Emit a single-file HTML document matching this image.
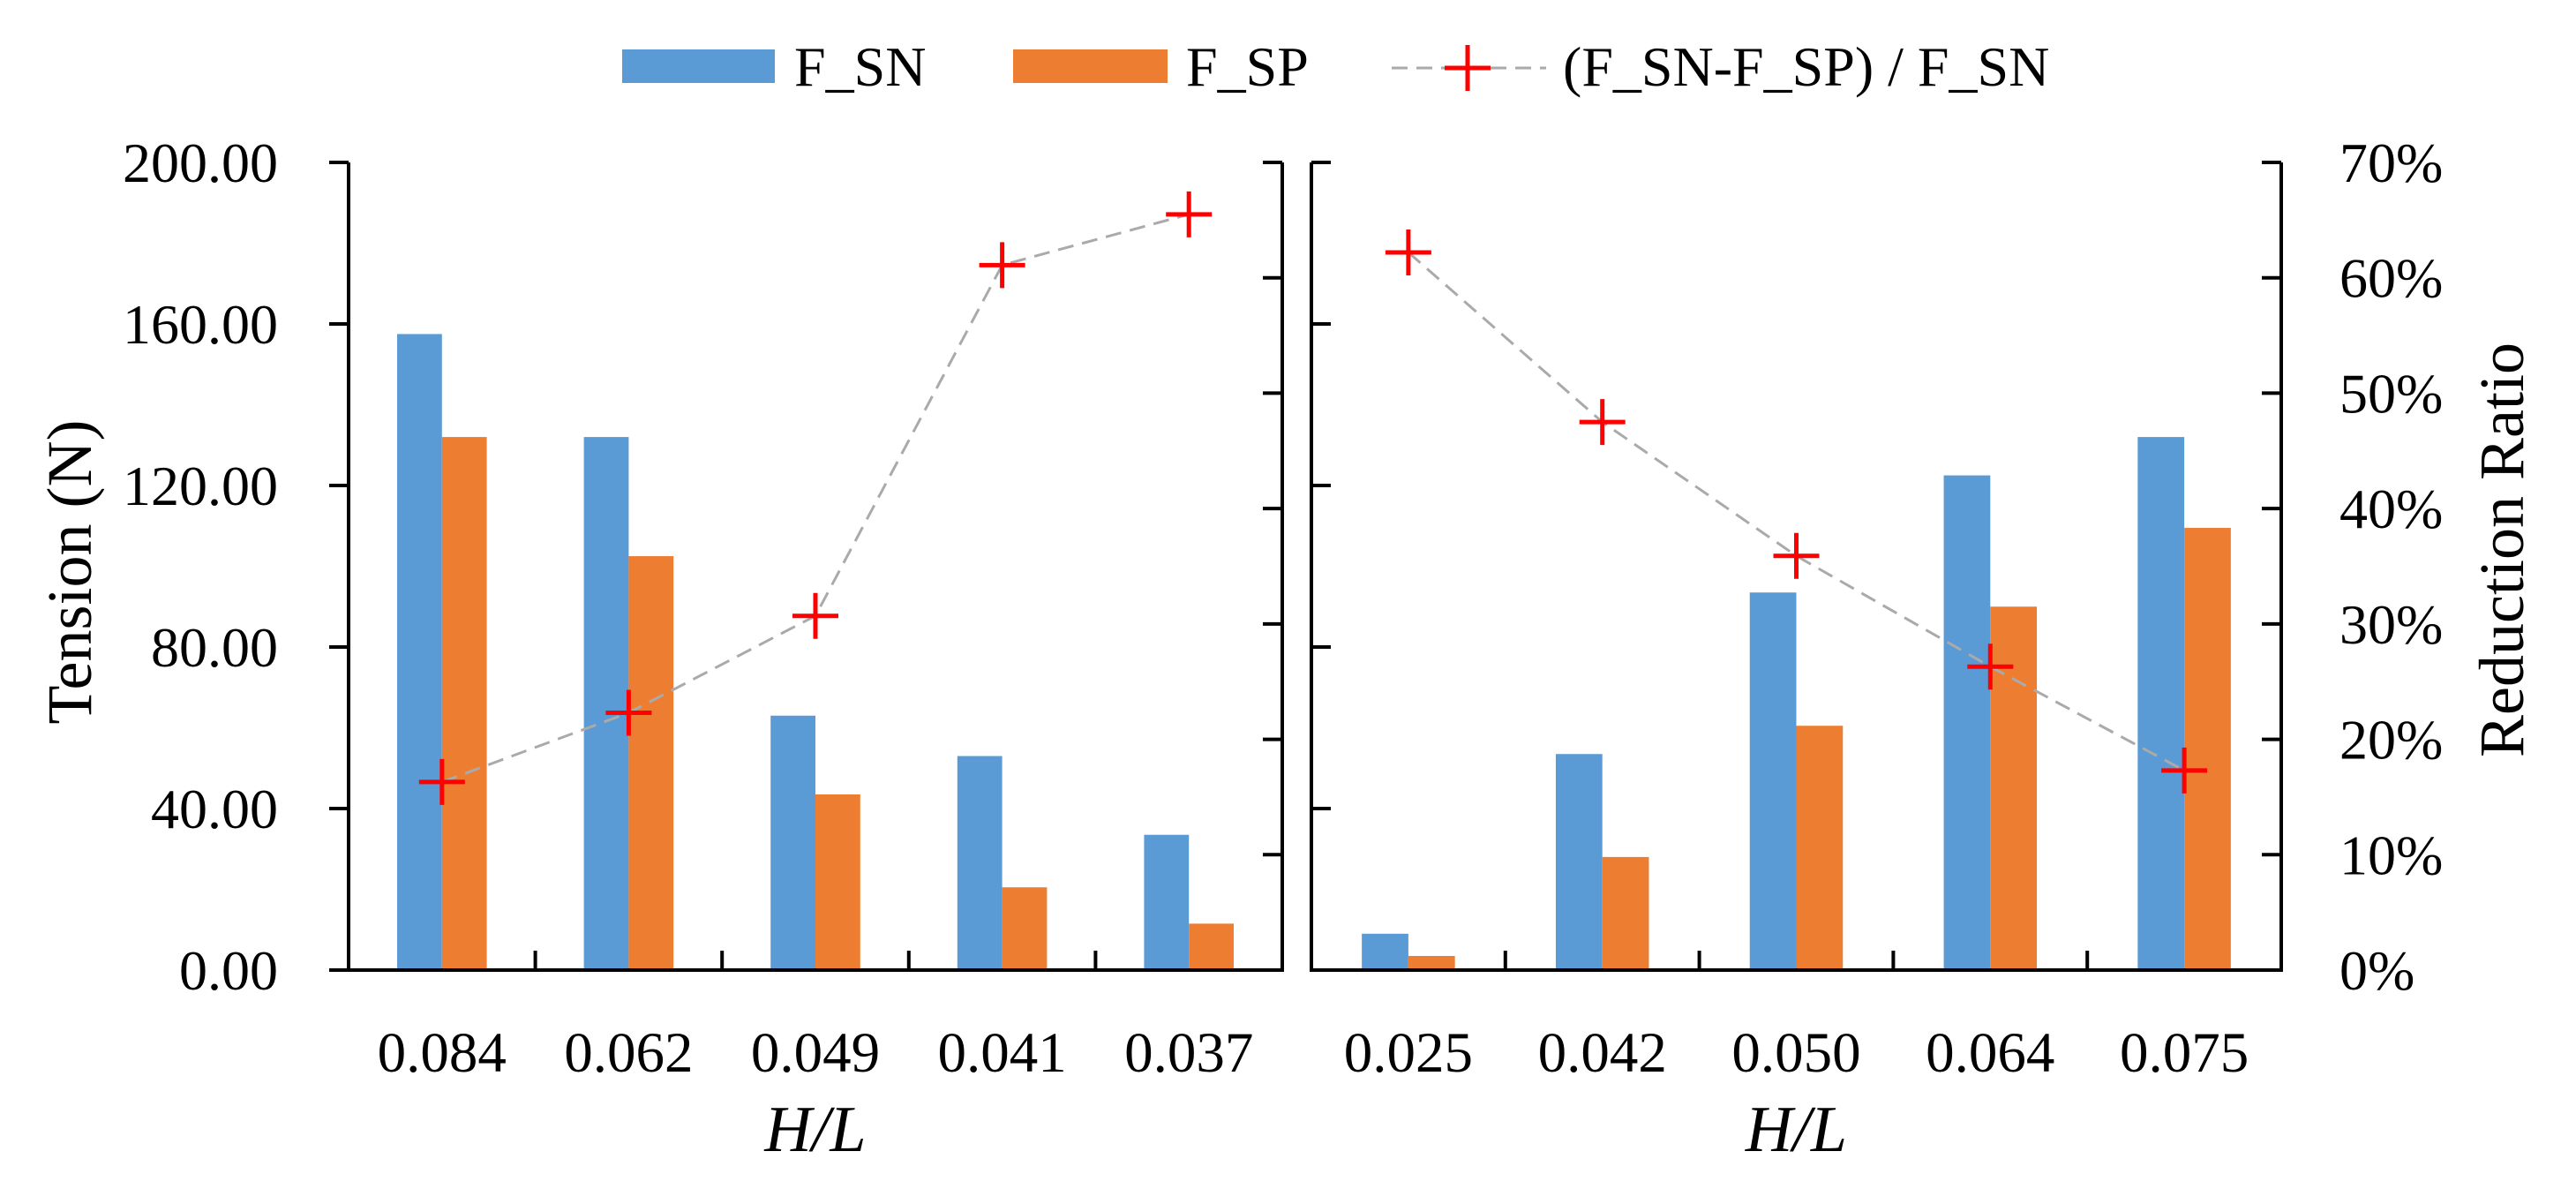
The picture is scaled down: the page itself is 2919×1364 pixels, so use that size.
<!DOCTYPE html>
<html><head><meta charset="utf-8"><style>
html,body{margin:0;padding:0;background:#fff}
svg text{font-family:"Liberation Serif",serif;fill:#000}
</style></head><body>
<svg id="chart" width="2919" height="1359" viewBox="0 0 2919 1359" xmlns="http://www.w3.org/2000/svg">
<g>
  <rect x="705" y="56" width="173" height="38" fill="#5B9BD5"/>
  <text x="900" y="97" font-size="64">F_SN</text>
  <rect x="1148" y="56" width="175" height="38" fill="#ED7D31"/>
  <text x="1344" y="97" font-size="64">F_SP</text>
  <line x1="1577" y1="77" x2="1752" y2="77" stroke="#aaa" stroke-width="3" stroke-dasharray="18,10"/>
  <path d="M1637 77H1689M1663 51V103" stroke="#FF0000" stroke-width="5"/>
  <text x="1771" y="97" font-size="64">(F_SN-F_SP) / F_SN</text>
</g>
<text transform="translate(103,648) rotate(-90)" text-anchor="middle" font-size="72">Tension (N)</text>
<text transform="translate(2859,623) rotate(-90)" text-anchor="middle" font-size="72">Reduction Ratio</text>
<g id="plots"></g>
</svg>
<script>
const catsLeft = ["0.084","0.062","0.049","0.041","0.037"];
const snLeft = [157.5,132,63,53,33.5];
const spLeft = [132,102.5,43.5,20.5,11.5];
const ratioLeft = [16.3,22.3,30.7,61.1,65.5];
const catsRight = ["0.025","0.042","0.050","0.064","0.075"];
const snRight = [9,53.5,93.5,122.5,132];
const spRight = [3.5,28,60.5,90,109.5];
const ratioRight = [62.2,47.5,35.9,26.3,17.3];
const tensionTicks = [0,40,80,120,160,200];
const tensionLabels = ["0.00","40.00","80.00","120.00","160.00","200.00"];
const pctTicks = [0,10,20,30,40,50,60,70];
const pctLabels = ["0%","10%","20%","30%","40%","50%","60%","70%"];

const NS="http://www.w3.org/2000/svg";
const plotRoot=document.getElementById('plots');
const plotTop=184,plotBot=1099;
const yT=v=>plotBot-(v/200)*(plotBot-plotTop);
const yP=v=>plotBot-(v/70)*(plotBot-plotTop);
function mk(tag,attrs,parent){const e=document.createElementNS(NS,tag);for(const k in attrs)e.setAttribute(k,attrs[k]);(parent||plotRoot).appendChild(e);return e;}

function panel(x0,x1,cats,sn,sp,ratio,side){
  const g=mk('g',{});
  
  
  const cw=(x1-x0)/cats.length, bw=cw*0.24;
  const xc=i=>x0+cw*(i+0.5);
  cats.forEach((c,i)=>{
    const b1=mk('rect',{x:xc(i)-bw,y:yT(sn[i]),width:bw,height:plotBot-yT(sn[i]),fill:'#5B9BD5'},g);
    
    
    const b2=mk('rect',{x:xc(i),y:yT(sp[i]),width:bw,height:plotBot-yT(sp[i]),fill:'#ED7D31'},g);
    
    
    const t=mk('text',{x:xc(i),y:1214,'text-anchor':'middle','font-size':65},g);
    t.textContent=c;
    
    
    if(i>0){const tk=mk('line',{x1:x0+cw*i,x2:x0+cw*i,y1:plotBot,y2:plotBot-22,stroke:'#000','stroke-width':4},g);
      
      }
  });
  const pts=ratio.map((r,i)=>xc(i)+','+yP(r)).join(' ');
  const pl=mk('polyline',{points:pts,fill:'none',stroke:'#aaa','stroke-width':3,'stroke-dasharray':'18,10'},g);
  
  
  ratio.forEach((r,i)=>{
    const m=mk('path',{d:`M${xc(i)-26} ${yP(r)}H${xc(i)+26}M${xc(i)} ${yP(r)-26}V${yP(r)+26}`,stroke:'#FF0000','stroke-width':5},g);
    
    
  });
  const ax=mk('path',{d:`M${x0} ${plotTop}V${plotBot}H${x1}V${plotTop}`,fill:'none',stroke:'#000','stroke-width':4},g);
  
  
  tensionTicks.forEach(v=>{
    const dx = side==='left' ? -22 : 22;
    const tk=mk('line',{x1:x0,x2:x0+dx,y1:yT(v),y2:yT(v),stroke:'#000','stroke-width':4},g);
    
    
  });
  pctTicks.forEach(v=>{
    const tk=mk('line',{x1:x1,x2:x1-22,y1:yP(v),y2:yP(v),stroke:'#000','stroke-width':4},g);
    
    
  });
  const ht=mk('text',{x:(x0+x1)/2,y:1304,'text-anchor':'middle','font-size':74,'font-style':'italic'},g);
  ht.textContent='H/L';
  
  
}
panel(395,1453,catsLeft,snLeft,spLeft,ratioLeft,'left');
panel(1486,2585,catsRight,snRight,spRight,ratioRight,'right');
tensionTicks.forEach((v,i)=>{
  const t=mk('text',{x:315,y:yT(v)+22,'text-anchor':'end','font-size':64});
  t.textContent=tensionLabels[i];
  
  
});
pctTicks.forEach((v,i)=>{
  const t=mk('text',{x:2651,y:yP(v)+22,'font-size':64});
  t.textContent=pctLabels[i];
  
  
});
</script>
</body></html>
